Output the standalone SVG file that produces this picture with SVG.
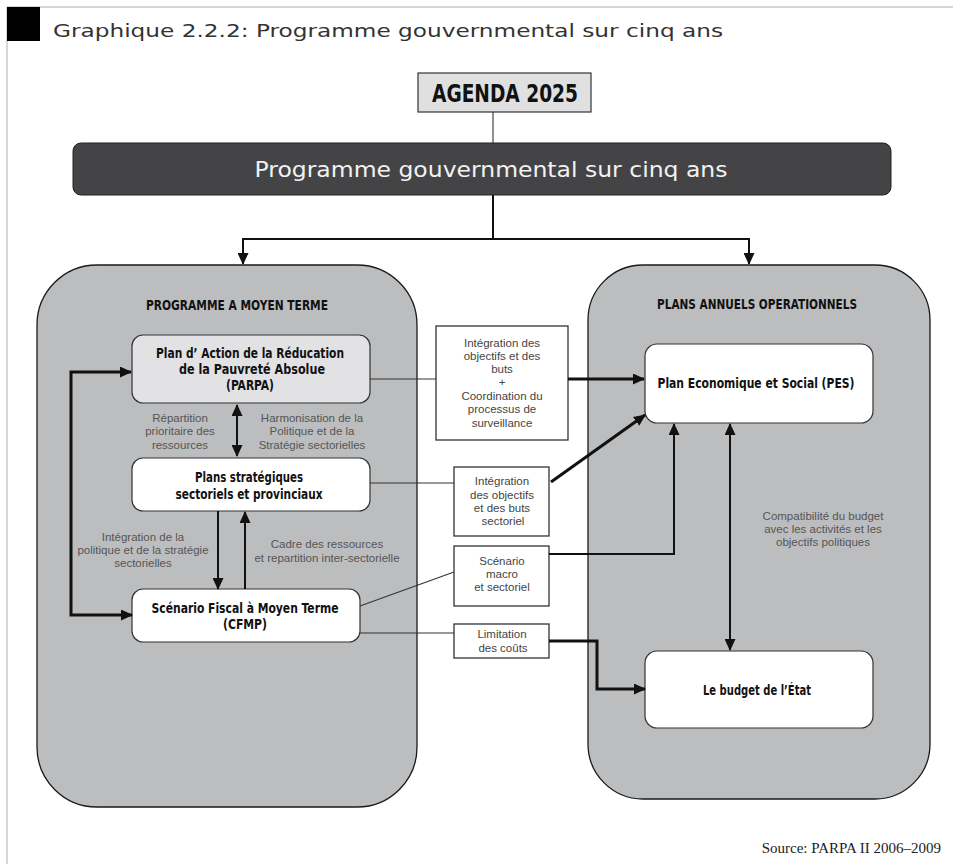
<svg xmlns="http://www.w3.org/2000/svg" width="953" height="864" viewBox="0 0 953 864">
<style>
.frame{stroke:#c8c8c8;stroke-width:1.5;fill:none}
.title{font-family:"DejaVu Sans","Liberation Sans",sans-serif;font-size:17px;fill:#333}
.bartxt{font-family:"DejaVu Sans","Liberation Sans",sans-serif;font-size:21px;fill:#f2f2f2;text-anchor:middle}
.panel{fill:#bcbdbf;stroke:#1a1a1a;stroke-width:1.3}
.node{fill:#ffffff;stroke:#333;stroke-width:1.2}
.nodeg{fill:#e2e2e4;stroke:#333;stroke-width:1.2}
.box{fill:#ffffff;stroke:#333;stroke-width:1.3}
.b{font-family:"Liberation Sans Narrow","DejaVu Sans Condensed","Liberation Sans",sans-serif;font-weight:bold;font-size:13.5px;fill:#111;text-anchor:middle}
.big{font-size:24px}
.lab{font-family:"Liberation Sans","Arial",sans-serif;font-size:11.5px;fill:#555;text-anchor:middle}
.mid{font-family:"Liberation Sans","Arial",sans-serif;font-size:11.5px;fill:#444;text-anchor:middle}
.thin{stroke:#333;stroke-width:1.1;fill:none}
.med{stroke:#111;stroke-width:2;fill:none}
.thick{stroke:#111;stroke-width:3;fill:none}
.src{font-family:"Liberation Serif","Times New Roman",serif;font-size:15px;fill:#222;text-anchor:end}
</style>
<defs>
<marker id="ah" markerUnits="userSpaceOnUse" markerWidth="12" markerHeight="11" refX="11" refY="5.5" orient="auto-start-reverse" viewBox="0 0 12 11">
<path d="M0,0 L12,5.5 L0,11 z" fill="#111"/>
</marker>
</defs>
<rect width="953" height="864" fill="#ffffff"/>
<line class="frame" x1="7" y1="7" x2="953" y2="7"/>
<line class="frame" x1="7" y1="7" x2="7" y2="864"/>
<rect x="7" y="7" width="33" height="34" fill="#000"/>
<text class="title" x="53" y="37" textLength="670" lengthAdjust="spacingAndGlyphs">Graphique 2.2.2: Programme gouvernmental sur cinq ans</text>

<g id="panel-left">
<rect class="panel" x="37" y="265" width="380" height="542" rx="60" ry="60"/>
<text class="b" x="237" y="310" textLength="182" lengthAdjust="spacingAndGlyphs">PROGRAMME A MOYEN TERME</text>
</g>
<g id="panel-right">
<rect class="panel" x="588" y="265" width="342" height="534" rx="55" ry="55"/>
<text class="b" x="757" y="309" textLength="200" lengthAdjust="spacingAndGlyphs">PLANS ANNUELS OPERATIONNELS</text>
</g>

<g id="agenda">
<rect x="418" y="73" width="173" height="39" fill="#e0e0e0" stroke="#333" stroke-width="1.2"/>
<text class="b big" x="505" y="102" textLength="146" lengthAdjust="spacingAndGlyphs">AGENDA 2025</text>
</g>
<g id="programme">
<rect x="73" y="143" width="818" height="52" rx="8" ry="8" fill="#444446" stroke="#222" stroke-width="1"/>
<text class="bartxt" x="491" y="177" textLength="473" lengthAdjust="spacingAndGlyphs">Programme gouvernmental sur cinq ans</text>
</g>

<g id="parpa">
<rect class="nodeg" x="132" y="335" width="238" height="68" rx="11" ry="11"/>
<text class="b" x="250" y="358" textLength="188" lengthAdjust="spacingAndGlyphs">Plan d’ Action de la Réducation</text>
<text class="b" x="252" y="374" textLength="146" lengthAdjust="spacingAndGlyphs">de la Pauvreté Absolue</text>
<text class="b" x="250" y="390" textLength="48" lengthAdjust="spacingAndGlyphs">(PARPA)</text>
</g>
<g id="plans">
<rect class="node" x="132" y="458" width="238" height="53" rx="11" ry="11"/>
<text class="b" x="249" y="482" textLength="108" lengthAdjust="spacingAndGlyphs">Plans stratégiques</text>
<text class="b" x="249" y="499" textLength="147" lengthAdjust="spacingAndGlyphs">sectoriels et provinciaux</text>
</g>
<g id="cfmp">
<rect class="node" x="132" y="589" width="228" height="53" rx="11" ry="11"/>
<text class="b" x="245" y="613" textLength="187" lengthAdjust="spacingAndGlyphs">Scénario Fiscal à Moyen Terme</text>
<text class="b" x="245" y="629" textLength="44" lengthAdjust="spacingAndGlyphs">(CFMP)</text>
</g>
<g id="pes">
<rect class="node" x="645" y="344" width="228" height="79" rx="12" ry="12"/>
<text class="b" x="756" y="388" textLength="197" lengthAdjust="spacingAndGlyphs">Plan Economique et Social (PES)</text>
</g>
<g id="budget">
<rect class="node" x="645" y="651" width="228" height="77" rx="12" ry="12"/>
<text class="b" x="757" y="695" textLength="108" lengthAdjust="spacingAndGlyphs">Le budget de l’État</text>
</g>

<g id="box-integration">
<rect class="box" x="436" y="326" width="132" height="114"/>
<text class="mid" x="502" y="347">Intégration des</text>
<text class="mid" x="502" y="360">objectifs et des</text>
<text class="mid" x="502" y="373">buts</text>
<text class="mid" x="502" y="386">+</text>
<text class="mid" x="502" y="400">Coordination du</text>
<text class="mid" x="502" y="413">processus de</text>
<text class="mid" x="502" y="427">surveillance</text>
</g>
<g id="box-sectoriel">
<rect class="box" x="454" y="467" width="95" height="69"/>
<text class="mid" x="502" y="485">Intégration</text>
<text class="mid" x="502" y="499">des objectifs</text>
<text class="mid" x="502" y="512">et des buts</text>
<text class="mid" x="503" y="525">sectoriel</text>
</g>
<g id="box-scenario">
<rect class="box" x="454" y="546" width="95" height="60"/>
<text class="mid" x="502" y="565">Scénario</text>
<text class="mid" x="502" y="578">macro</text>
<text class="mid" x="502" y="591">et sectoriel</text>
</g>
<g id="box-limitation">
<rect class="box" x="454" y="624" width="95" height="34"/>
<text class="mid" x="502" y="638">Limitation</text>
<text class="mid" x="503" y="652">des coûts</text>
</g>

<g id="labels">
<text class="lab" x="180" y="422">Répartition</text>
<text class="lab" x="180" y="435">prioritaire des</text>
<text class="lab" x="180" y="449">ressources</text>
<text class="lab" x="312" y="422">Harmonisation de la</text>
<text class="lab" x="312" y="435">Politique et de la</text>
<text class="lab" x="312" y="449">Stratégie sectorielles</text>
<text class="lab" x="143" y="541">Intégration de la</text>
<text class="lab" x="143" y="554">politique et de la stratégie</text>
<text class="lab" x="143" y="567">sectorielles</text>
<text class="lab" x="327" y="548">Cadre des ressources</text>
<text class="lab" x="327" y="562">et repartition inter-sectorielle</text>
<text class="lab" x="823" y="520">Compatibilité du budget</text>
<text class="lab" x="823" y="533">avec les activités et les</text>
<text class="lab" x="823" y="546">objectifs politiques</text>
</g>

<g id="connectors">
<line class="thin" x1="493" y1="112" x2="493" y2="143"/>
<line class="med" x1="493" y1="195" x2="493" y2="239"/>
<line class="med" x1="242" y1="239" x2="750" y2="239"/>
<line class="med" x1="243" y1="239" x2="243" y2="264" marker-end="url(#ah)"/>
<line class="med" x1="749" y1="239" x2="749" y2="264" marker-end="url(#ah)"/>
<polyline class="thick" points="131,372 71,372 71,615 132,615" marker-start="url(#ah)" marker-end="url(#ah)"/>
<line class="med" x1="237" y1="405" x2="237" y2="456" stroke-width="2.5" marker-start="url(#ah)" marker-end="url(#ah)"/>
<line class="med" x1="218" y1="511" x2="218" y2="589" stroke-width="2.5" marker-end="url(#ah)"/>
<line class="med" x1="245" y1="589" x2="245" y2="512" stroke-width="2.5" marker-end="url(#ah)"/>
<line class="thin" x1="370" y1="379" x2="436" y2="379"/>
<line class="thick" x1="568" y1="379" x2="644" y2="379" marker-end="url(#ah)"/>
<line class="thin" x1="370" y1="483" x2="454" y2="483"/>
<line class="thick" x1="551" y1="482" x2="645" y2="415" marker-end="url(#ah)"/>
<line class="thin" x1="360" y1="606" x2="454" y2="572"/>
<polyline class="med" points="549,554 674,554 674,424" marker-end="url(#ah)"/>
<line class="thin" x1="360" y1="633" x2="454" y2="633"/>
<polyline class="thick" points="549,641 597,641 597,689 645,689" marker-end="url(#ah)"/>
<line class="med" x1="730" y1="424" x2="730" y2="650" marker-start="url(#ah)" marker-end="url(#ah)"/>
</g>

<text class="src" x="941" y="853">Source: PARPA II 2006–2009</text>
</svg>
